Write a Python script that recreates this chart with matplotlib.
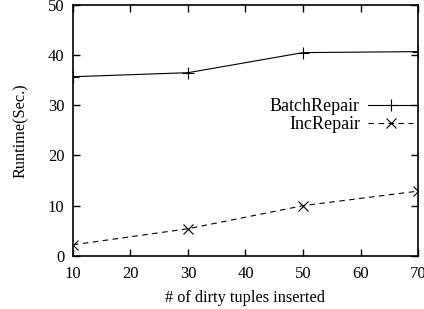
import matplotlib
matplotlib.use("Agg")
import matplotlib.pyplot as plt

# -----------------------------
# Data
# -----------------------------
dirty_tuples = [10, 30, 50, 70]
batch_repair = [35.7, 36.5, 40.5, 40.7]
inc_repair = [2.2, 5.4, 10.0, 12.9]

x_ticks = [10, 20, 30, 40, 50, 60, 70]
y_ticks = [0, 10, 20, 30, 40, 50]

plt.rcParams["font.family"] = ["Liberation Serif", "DejaVu Serif"]
plt.rcParams["font.size"] = 12

fig = plt.figure(figsize=(4.24, 3.09), dpi=100)
ax = fig.add_axes([0.172, 0.172, 0.814, 0.812])

ax.plot(dirty_tuples, batch_repair, color="black", lw=0.8,
        marker="+", markersize=8, markeredgewidth=0.8, label="BatchRepair")
ax.plot(dirty_tuples, inc_repair, color="black", lw=0.8, linestyle=(0, (5, 4)),
        marker="x", markersize=7, markeredgewidth=0.8, label="IncRepair")

ax.set_xlim(10, 70)
ax.set_ylim(0, 50)
ax.set_xticks(x_ticks)
ax.set_yticks(y_ticks)
ax.tick_params(direction="in", length=5, width=1, top=True, right=True,
               labelsize=12)
ax.tick_params(axis="x", pad=7)
ax.tick_params(axis="y", pad=6)
for s in ax.spines.values():
    s.set_linewidth(1.2)

ax.set_xlabel("# of dirty tuples inserted", fontsize=11.7, labelpad=6)
ax.set_ylabel("Runtime(Sec.)", fontsize=11.7, labelpad=14)

ax.legend(loc="center right", bbox_to_anchor=(0.986, 0.558), frameon=False,
          markerfirst=False, handlelength=2.5, handletextpad=0.45,
          labelspacing=0.05, borderpad=0, borderaxespad=0, fontsize=13)

fig.savefig("out.png", dpi=100)
